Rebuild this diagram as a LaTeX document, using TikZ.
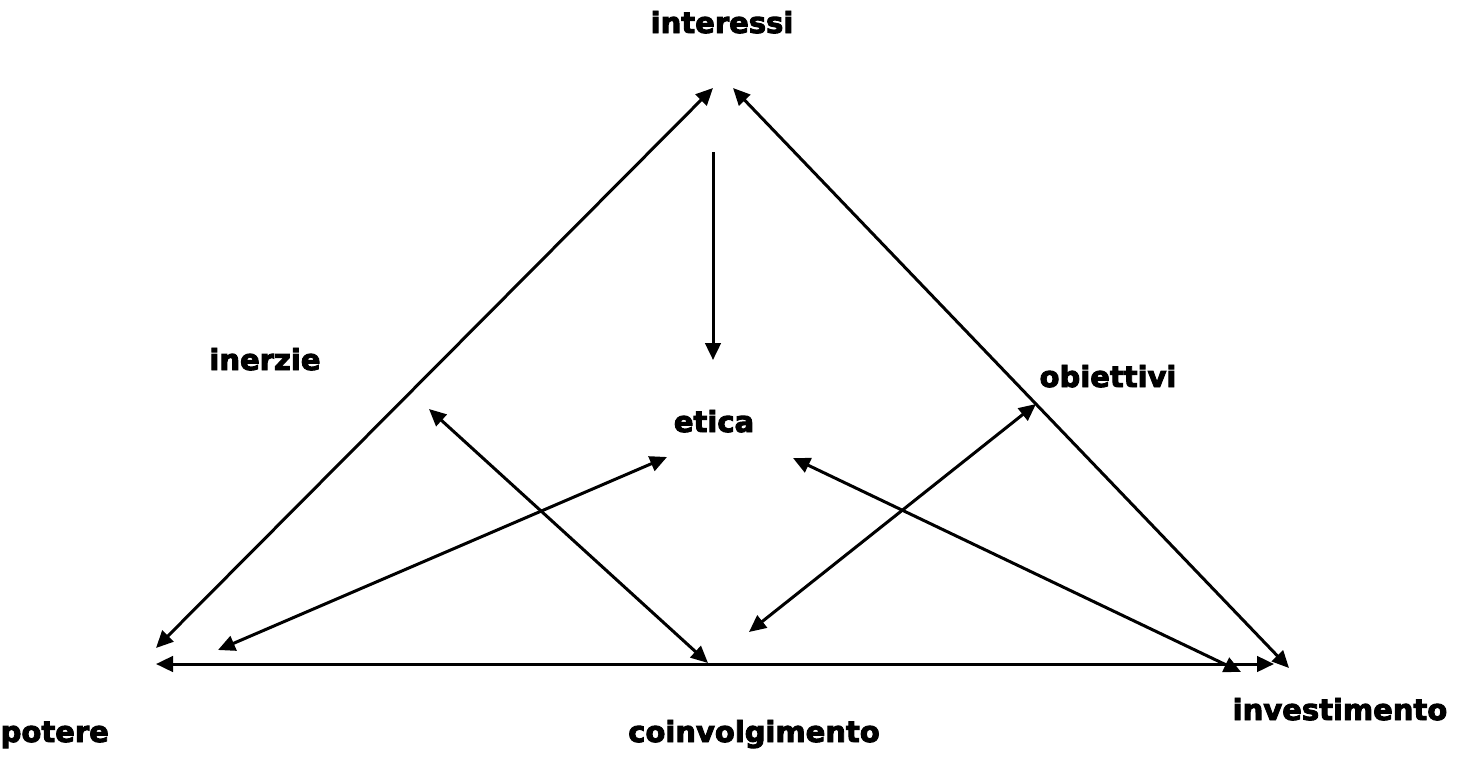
\documentclass[tikz,border=0pt]{standalone}
\usepackage{fontspec}
\setmainfont{DejaVu Sans}
\newfontfamily\heavyfont{DejaVu Sans Bold}[FakeBold=3.2]
\usetikzlibrary{arrows.meta}
\begin{document}
\begin{tikzpicture}[x=1pt,y=-1pt,
  lbl/.style={font=\fontsize{29}{32}\heavyfont, inner sep=0pt, anchor=base},
  conn/.style={line width=3pt, {Triangle[length=17pt,width=15.5pt]}-{Triangle[length=17pt,width=15.5pt]}},
  oneway/.style={line width=3pt, -{Triangle[length=17pt,width=15.5pt]}}]
\useasboundingbox[fill=white] (0,0) rectangle (1463,779);
% labels
\node[lbl] (interessi) at (722,33) {interessi};
\node[lbl] (inerzie) at (265,370) {inerzie};
\node[lbl] (etica) at (714,432) {etica};
\node[lbl] (obiettivi) at (1108,387) {obiettivi};
\node[lbl] (investimento) at (1340,720) {investimento};
\node[lbl, anchor=base west] (potere) at (0.5,742) {potere};
\node[lbl] (coinvolgimento) at (754,742) {coinvolgimento};
% connector end points
\coordinate (lt) at (713,88);
\coordinate (lb) at (156,648);
\coordinate (rt) at (733,88);
\coordinate (rb) at (1289,668);
\coordinate (vt) at (713,152);
\coordinate (vb) at (713,360);
\coordinate (ia) at (429,409);
\coordinate (ib) at (708,663);
\coordinate (ea) at (667,457);
\coordinate (eb) at (218,650);
\coordinate (oa) at (1036,404);
\coordinate (ob) at (749,632);
\coordinate (ra) at (793,458);
\coordinate (rbb) at (1241,672);
\coordinate (bl) at (156,664);
\coordinate (br) at (1274,664);
% connectors
\draw[conn] (lb) -- (lt);
\draw[conn] (rt) -- (rb);
\draw[oneway] (vt) -- (vb);
\draw[conn] (ia) -- (ib);
\draw[conn] (eb) -- (ea);
\draw[conn] (oa) -- (ob);
\draw[conn] (ra) -- (rbb);
\draw[conn] (bl) -- (br);
\end{tikzpicture}
\end{document}
